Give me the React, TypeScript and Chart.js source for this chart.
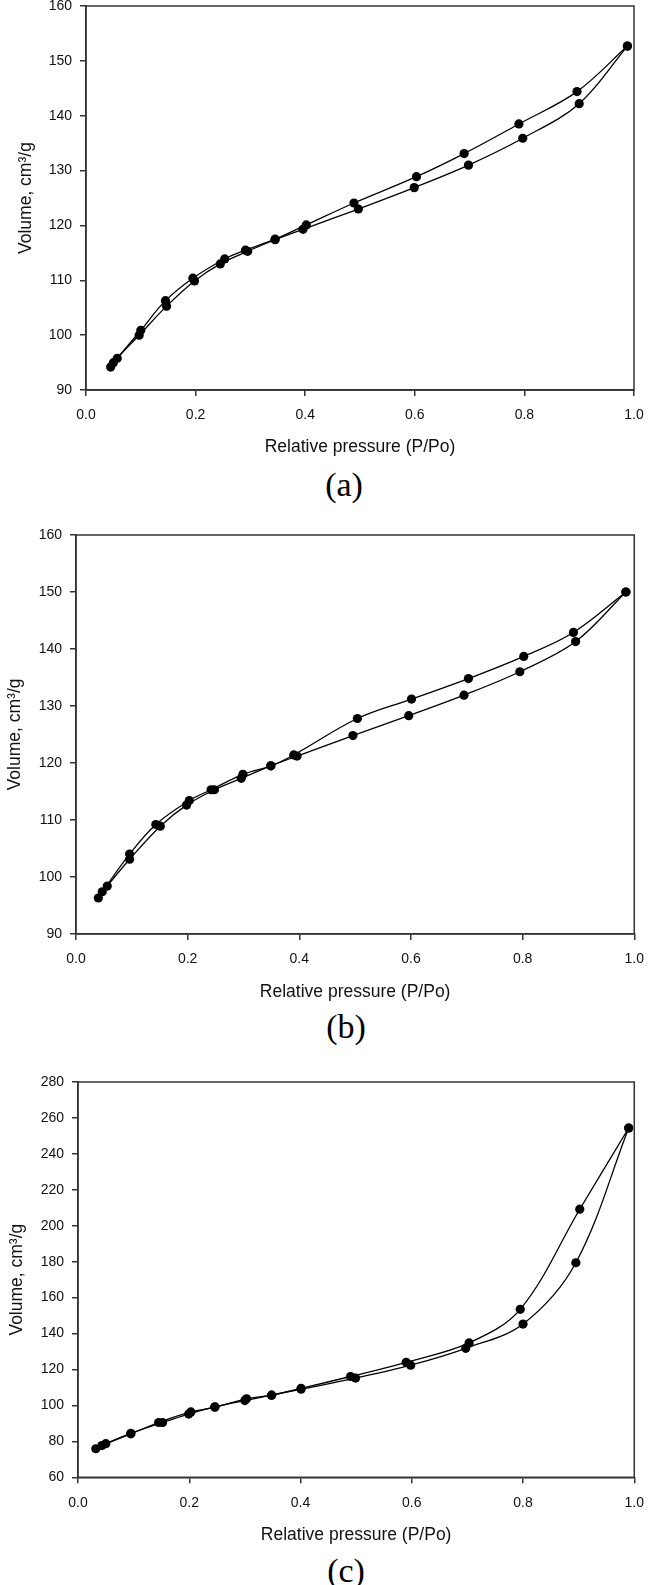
import React, { useEffect, useRef } from 'react';
import { Chart, registerables } from 'chart.js';

Chart.register(...registerables);

// ---------- data ----------
// (a)
const aAdsX = [0.045, 0.057, 0.097, 0.147, 0.198, 0.245, 0.295, 0.345, 0.396, 0.497, 0.599, 0.698, 0.797, 0.9, 0.988];
const aAdsY = [94.2, 95.8, 100.0, 105.3, 109.9, 113.0, 115.3, 117.4, 119.3, 123.0, 126.9, 131.0, 135.9, 142.2, 152.7];
const aDesX = [0.05, 0.1, 0.145, 0.195, 0.253, 0.291, 0.345, 0.402, 0.489, 0.603, 0.69, 0.79, 0.896, 0.988];
const aDesY = [95.0, 100.9, 106.3, 110.4, 113.9, 115.5, 117.5, 120.1, 124.1, 128.9, 133.1, 138.5, 144.4, 152.7];
// (b)
const bAdsX = [0.04, 0.056, 0.096, 0.151, 0.198, 0.248, 0.296, 0.349, 0.396, 0.496, 0.596, 0.695, 0.795, 0.895, 0.985];
const bAdsY = [96.3, 98.4, 103.1, 108.9, 112.6, 115.3, 117.3, 119.5, 121.2, 124.8, 128.3, 131.9, 136.0, 141.3, 150.0];
const bDesX = [0.047, 0.096, 0.143, 0.203, 0.242, 0.299, 0.349, 0.39, 0.504, 0.601, 0.703, 0.802, 0.891, 0.985];
const bDesY = [97.4, 104.0, 109.2, 113.4, 115.3, 118.0, 119.5, 121.4, 127.8, 131.2, 134.8, 138.7, 142.9, 150.0];
// (c)
const cAdsX = [0.032, 0.05, 0.095, 0.152, 0.199, 0.246, 0.3, 0.348, 0.401, 0.499, 0.598, 0.697, 0.8, 0.895, 0.99];
const cAdsY = [75.9, 78.7, 84.4, 90.5, 95.2, 99.2, 102.7, 105.7, 109.0, 115.2, 122.4, 131.8, 145.3, 179.4, 254.4];
const cDesX = [0.043, 0.095, 0.145, 0.203, 0.246, 0.303, 0.348, 0.401, 0.49, 0.59, 0.703, 0.795, 0.902, 0.99];
const cDesY = [77.7, 84.2, 90.5, 96.4, 99.0, 103.7, 105.7, 109.5, 116.1, 124.0, 134.8, 153.5, 209.2, 254.4];

const xTitle = 'Relative pressure (P/Po)';
const yTitle = 'Volume, cm\u00b3/g';
const panelLabels = ['(a)', '(b)', '(c)'];

// ---------- layout ----------
const PAGE_W = 655;
const PAD_TOP = 20;
const TITLE_FONT = 17.5;
const TICK_FONT = 14;
const AXIS_COLOR = '#333333';
const TEXT_COLOR = '#111111';

type PanelProps = {
  adsX: number[]; adsY: number[]; desX: number[]; desY: number[];
  yMin: number; yMax: number; yStep: number;
  plotTop: number; plotBottom: number; plotLeft: number; plotRight: number;
  tickPad: number; titleGap: number; yTitleX: number;
  label: string; labelX: number; labelY: number;
};

function Panel(p: PanelProps) {
  const ref = useRef<HTMLCanvasElement | null>(null);
  const lh = TITLE_FONT * 1.2;
  const canvasTop = p.plotTop - PAD_TOP;
  const xH = p.titleGap + lh / 2;
  const canvasH = Math.round(p.plotBottom - canvasTop + xH);

  useEffect(() => {
    if (!ref.current) return;
    const pts = (xs: number[], ys: number[]) => xs.map((x, i) => ({ x, y: ys[i] }));
    const ds = (data: { x: number; y: number }[]) => ({
      data,
      showLine: true,
      tension: 0.35,
      borderColor: '#000',
      borderWidth: 1.3,
      pointRadius: 4.6,
      pointBackgroundColor: '#000',
      pointBorderColor: '#000',
      pointBorderWidth: 0,
    });
    const frame = {
      id: 'frame',
      afterDatasetsDraw(chart: any) {
        const { ctx, chartArea: a } = chart;
        ctx.save();
        ctx.strokeStyle = AXIS_COLOR;
        ctx.lineWidth = 1.5;
        ctx.strokeRect(a.left, a.top, a.right - a.left, a.bottom - a.top);
        ctx.restore();
      },
    };
    const chart = new Chart(ref.current, {
      type: 'scatter',
      data: { datasets: [ds(pts(p.adsX, p.adsY)), ds(pts(p.desX, p.desY))] as any },
      options: {
        animation: false,
        responsive: false,
        maintainAspectRatio: false,
        layout: { padding: { top: PAD_TOP, right: PAGE_W - p.plotRight, bottom: 0, left: 0 } },
        plugins: { legend: { display: false }, tooltip: { enabled: false } },
        scales: {
          x: {
            type: 'linear',
            min: 0,
            max: 1,
            ticks: {
              stepSize: 0.2,
              callback: (v: any) => Number(v).toFixed(1),
              padding: p.tickPad,
              maxRotation: 0,
              color: TEXT_COLOR,
              font: { family: '"Liberation Sans", Arial, sans-serif', size: TICK_FONT },
            },
            grid: { drawOnChartArea: false, tickLength: 6, color: AXIS_COLOR, lineWidth: 1.5 },
            border: { color: AXIS_COLOR, width: 1.5 },
            title: {
              display: true,
              text: xTitle,
              color: TEXT_COLOR,
              padding: 0,
              font: { family: '"Liberation Sans", Arial, sans-serif', size: TITLE_FONT },
            },
            afterFit: (s: any) => { s.height = xH; },
          },
          y: {
            type: 'linear',
            min: p.yMin,
            max: p.yMax,
            ticks: {
              stepSize: p.yStep,
              padding: 8,
              color: TEXT_COLOR,
              font: { family: '"Liberation Sans", Arial, sans-serif', size: TICK_FONT },
            },
            grid: { drawOnChartArea: false, tickLength: 6, color: AXIS_COLOR, lineWidth: 1.5 },
            border: { color: AXIS_COLOR, width: 1.5 },
            title: {
              display: true,
              text: yTitle,
              color: TEXT_COLOR,
              padding: { top: p.yTitleX - lh / 2, bottom: 0 },
              font: { family: '"Liberation Sans", Arial, sans-serif', size: TITLE_FONT },
            },
            afterFit: (s: any) => { s.width = p.plotLeft; },
          },
        },
      } as any,
      plugins: [frame],
    });
    return () => chart.destroy();
  }, []);

  return (
    <>
      <canvas
        ref={ref}
        width={PAGE_W}
        height={canvasH}
        style={{ position: 'absolute', left: 0, top: canvasTop, width: PAGE_W, height: canvasH }}
      />
      <div
        style={{
          position: 'absolute',
          left: p.labelX,
          top: p.labelY,
          transform: 'translate(-50%, -50%)',
          fontFamily: '"Liberation Serif", "Times New Roman", serif',
          fontSize: 34,
          lineHeight: '34px',
          color: '#000',
          whiteSpace: 'nowrap',
        }}
      >
        {p.label}
      </div>
    </>
  );
}

export default function App() {
  return (
    <div style={{ position: 'absolute', left: 0, top: 0, width: PAGE_W, height: 1585, background: '#fff', overflow: 'hidden' }}>
      <Panel
        adsX={aAdsX} adsY={aAdsY} desX={aDesX} desY={aDesY}
        yMin={90} yMax={160} yStep={10}
        plotTop={5.7} plotBottom={389.3} plotLeft={86} plotRight={634}
        tickPad={10.5} titleGap={57.4} yTitleX={26}
        label={panelLabels[0]} labelX={344} labelY={485}
      />
      <Panel
        adsX={bAdsX} adsY={bAdsY} desX={bDesX} desY={bDesY}
        yMin={90} yMax={160} yStep={10}
        plotTop={535.2} plotBottom={934} plotLeft={76} plotRight={644}
        tickPad={11} titleGap={58.6} yTitleX={15}
        label={panelLabels[1]} labelX={346} labelY={1027}
      />
      <Panel
        adsX={cAdsX} adsY={cAdsY} desX={cDesX} desY={cDesY}
        yMin={60} yMax={280} yStep={20}
        plotTop={1082} plotBottom={1477.8} plotLeft={78} plotRight={642}
        tickPad={11} titleGap={58.2} yTitleX={17}
        label={panelLabels[2]} labelX={346} labelY={1571}
      />
    </div>
  );
}
